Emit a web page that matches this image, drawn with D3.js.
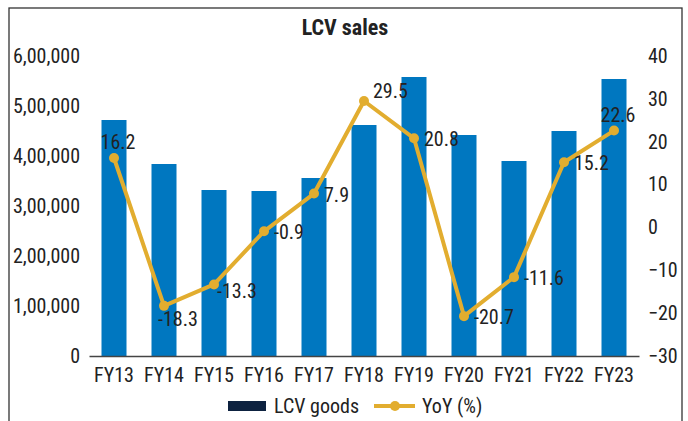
<!DOCTYPE html>
<html>
<head>
<meta charset="utf-8">
<script src="https://cdn.jsdelivr.net/npm/d3@7"></script>
<style>
  html, body { margin: 0; padding: 0; background: #fff; }
  svg text { font-family: 'Liberation Sans Narrow', 'Roboto Condensed', 'DejaVu Sans Condensed', sans-serif; fill: #222; }
</style>
</head>
<body>
<svg id="chart" width="688" height="421"></svg>
<script>
const categories = ["FY13","FY14","FY15","FY16","FY17","FY18","FY19","FY20","FY21","FY22","FY23"];
const salesValues = [472000, 384000, 332000, 330000, 356000, 462000, 558000, 442000, 390000, 450000, 554000];
const yoyValues = [16.2, -18.3, -13.3, -0.9, 7.9, 29.5, 20.8, -20.7, -11.6, 15.2, 22.6];
const yoyLabelPlacement = ["above","below","rightBelow","right","right","aboveRight","right","right","right","right","above"];
const leftTicks = [0, 100000, 200000, 300000, 400000, 500000, 600000];
const leftTickLabels = ["0","1,00,000","2,00,000","3,00,000","4,00,000","5,00,000","6,00,000"];
const rightTicks = [-30, -20, -10, 0, 10, 20, 30, 40];
const seriesNames = ["LCV goods", "YoY (%)"];
const titleText = "LCV sales";

const barColor = "#0077C0";
const legendBarColor = "#0D2240";
const lineColor = "#E2AD2F";
const fontSize = 20;

const svg = d3.select("#chart");

// frame
svg.append("rect").attr("x", 9).attr("y", 8).attr("width", 673).attr("height", 430)
  .attr("fill", "none").attr("stroke", "#333").attr("stroke-width", 1.3);

const x = d3.scaleBand().domain(categories).range([89, 639]).paddingInner(0.5).paddingOuter(0.25);
const yL = d3.scaleLinear().domain([0, 600000]).range([356, 56]);
const yR = d3.scaleLinear().domain([-30, 40]).range([356, 56]);

// title
svg.append("text").attr("x", 345).attr("y", 35).attr("text-anchor", "middle")
  .style("font-size", "22px").style("font-weight", "bold").text(titleText);

// bars
svg.append("g").selectAll("rect").data(categories).join("rect")
  .attr("x", d => x(d)).attr("width", x.bandwidth())
  .attr("y", (d, i) => yL(salesValues[i]))
  .attr("height", (d, i) => yL(0) - yL(salesValues[i]))
  .attr("fill", barColor);

// left axis
const leftAxis = d3.axisLeft(yL).tickValues(leftTicks)
  .tickFormat((d, i) => leftTickLabels[i]).tickSize(0).tickPadding(9);
const gL = svg.append("g").attr("transform", "translate(89,0)").call(leftAxis);
gL.select(".domain").remove();
gL.selectAll("text").style("font-size", fontSize + "px").attr("fill", "#222");

// right axis
const rightAxis = d3.axisRight(yR).tickValues(rightTicks).tickSize(0).tickPadding(9);
const gR = svg.append("g").attr("transform", "translate(639,0)").call(rightAxis);
gR.select(".domain").remove();
gR.selectAll("text").style("font-size", fontSize + "px").attr("fill", "#222");

// bottom axis
const bottomAxis = d3.axisBottom(x).tickSize(0).tickPadding(12);
const gB = svg.append("g").attr("transform", "translate(0,356)").call(bottomAxis);
gB.select(".domain").attr("stroke", "#444").attr("stroke-width", 1.5);
gB.selectAll("text").style("font-size", fontSize + "px").attr("fill", "#222");

// line
const cx = d => x(d) + x.bandwidth() / 2;
const line = d3.line().x((d, i) => cx(categories[i])).y(d => yR(d));
svg.append("path").datum(yoyValues).attr("d", line)
  .attr("fill", "none").attr("stroke", lineColor).attr("stroke-width", 4).attr("stroke-linejoin", "round");
svg.append("g").selectAll("circle").data(yoyValues).join("circle")
  .attr("cx", (d, i) => cx(categories[i])).attr("cy", d => yR(d)).attr("r", 5).attr("fill", lineColor);

// data labels
const placeOffsets = {
  right: { dx: 10, dy: 8, anchor: "start" },
  rightBelow: { dx: 3, dy: 14, anchor: "start" },
  aboveRight: { dx: 9, dy: -3, anchor: "start" },
  above: { dx: 4, dy: -9, anchor: "middle" },
  below: { dx: -6, dy: 20, anchor: "start" }
};
svg.append("g").selectAll("text").data(yoyValues).join("text")
  .attr("x", (d, i) => cx(categories[i]) + placeOffsets[yoyLabelPlacement[i]].dx)
  .attr("y", (d, i) => yR(d) + placeOffsets[yoyLabelPlacement[i]].dy)
  .attr("text-anchor", (d, i) => placeOffsets[yoyLabelPlacement[i]].anchor)
  .style("font-size", fontSize + "px")
  .text(d => d.toFixed(1));

// legend
const lg = svg.append("g");
lg.append("rect").attr("x", 228).attr("y", 401).attr("width", 38).attr("height", 10).attr("fill", legendBarColor);
lg.append("text").attr("x", 274).attr("y", 413).style("font-size", fontSize + "px").text(seriesNames[0]);
lg.append("line").attr("x1", 374).attr("x2", 415).attr("y1", 406).attr("y2", 406)
  .attr("stroke", lineColor).attr("stroke-width", 4);
lg.append("circle").attr("cx", 395).attr("cy", 406).attr("r", 5).attr("fill", lineColor);
lg.append("text").attr("x", 422).attr("y", 413).style("font-size", fontSize + "px").text(seriesNames[1]);
</script>
</body>
</html>
